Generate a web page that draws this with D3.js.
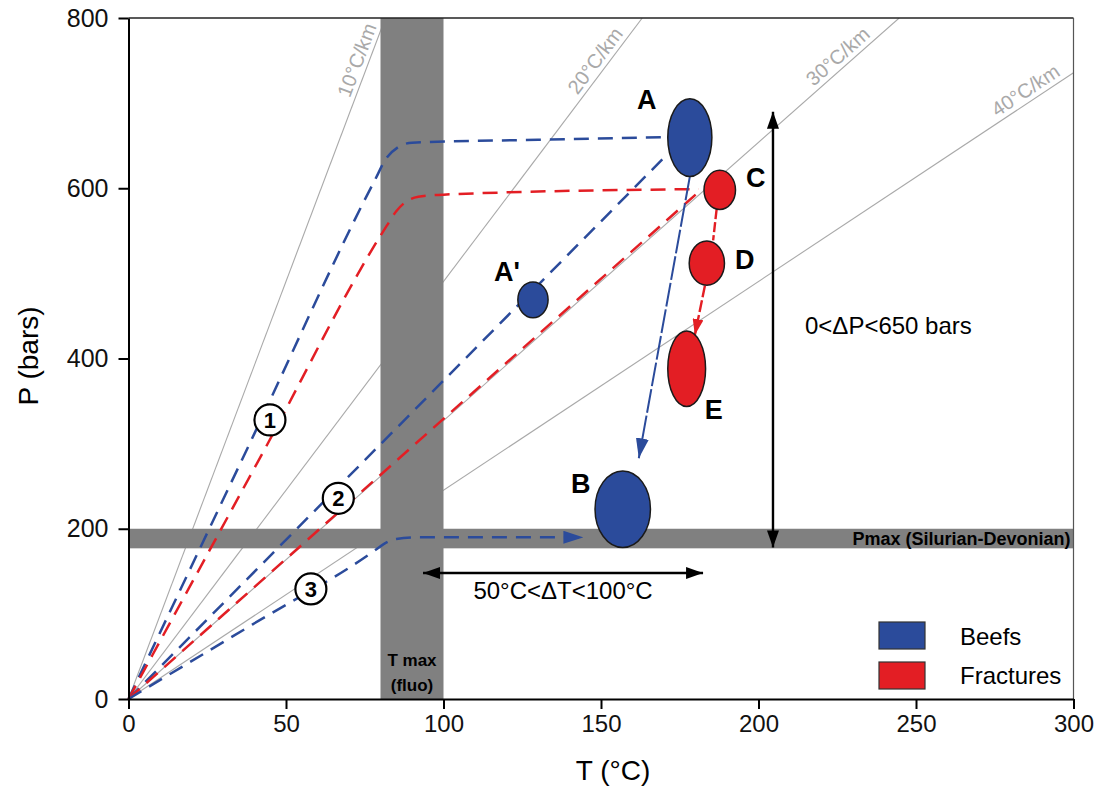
<!DOCTYPE html>
<html><head><meta charset="utf-8">
<script src="https://cdn.jsdelivr.net/npm/d3@7"></script>
<style>body{margin:0;background:#fff} text{font-family:"Liberation Sans",Arial,sans-serif}</style>
</head><body><svg id="c" width="1107" height="800"></svg>
<script>
// ---------- data ----------
const xTicks = [0, 50, 100, 150, 200, 250, 300];
const yTicks = [0, 200, 400, 600, 800];
const gradients = [10, 20, 30, 40];               // °C/km
const barsPerKm = 98.1;                           // hydrostatic
const gradientLabels = ["10°C/km", "20°C/km", "30°C/km", "40°C/km"];
const tmaxBand = [80, 100];                       // °C
const pmaxBand = [177, 200];                      // bars
const ellipseNames = ["A", "A'", "B", "C", "D", "E"];
const ellipseT = [178.2, 128.4, 156.9, 187.7, 183.6, 177.2];
const ellipseP = [659.5, 469, 223, 598, 512, 388];
const ellipseRT = [7, 4.8, 8.8, 5, 5.6, 6];
const ellipseRP = [45.6, 21, 44.9, 23, 26, 44.4];
const ellipseType = ["Beefs", "Beefs", "Beefs", "Fractures", "Fractures", "Fractures"];
const bluePath1 = [[0,0],[40,312],[78,608],[82,636],[85.5,648],[90,653.5],[130,657],[170,660]];
const redPath1  = [[0,0],[42,285],[82,556],[85,573],[88,584],[92,590],[100,592.5],[181,599]];
const bluePath2 = [[0,0],[170.3,637]];
const redPath2  = [[0,0],[182,599]];
const bluePath3 = [[0,0],[40,89],[78,174],[81,182],[85,188],[92,190],[144.4,190]];
const arrowAB = [[178.2,613.7],[162,282.8]];
const arrowCD = [[186.7,575.3],[185.6,538.8]];
const arrowDE = [[183,485.7],[179.8,427.7]];
const deltaT = {T:[93.5,182.4], P:148, label:"50°C<ΔT<100°C"};
const deltaP = {T:204.6, P:[178,690], label:"0<ΔP<650 bars"};
const pathNumbers = ["1","2","3"];
const numberT = [44.9, 66.6, 57.9];
const numberP = [327.8, 235.8, 129.3];
const legendKeys = ["Beefs", "Fractures"];
const colors = {Beefs:"#2b4b9b", Fractures:"#e31e24"};

// ---------- layout ----------
const svg = d3.select("#c");
const x = d3.scaleLinear().domain([0,300]).range([128.5,1073.5]);
const y = d3.scaleLinear().domain([0,800]).range([699,18]);
const line = d3.line().x(d=>x(d[0])).y(d=>y(d[1]));
const curve = d3.line().x(d=>x(d[0])).y(d=>y(d[1])).curve(d3.curveMonotoneX);

const defs = svg.append("defs");
defs.append("clipPath").attr("id","plot").append("rect")
  .attr("x",x(0)).attr("y",y(800)).attr("width",x(300)-x(0)).attr("height",y(0)-y(800));
function marker(id,color,len,w){
  defs.append("marker").attr("id",id).attr("markerUnits","userSpaceOnUse")
    .attr("viewBox",`0 0 ${len} ${w}`).attr("refX",len).attr("refY",w/2)
    .attr("markerWidth",len).attr("markerHeight",w).attr("orient","auto-start-reverse")
    .append("path").attr("d",`M0,0L${len},${w/2}L0,${w}Z`).attr("fill",color);
}
marker("mBlue",colors.Beefs,20,13);
marker("mRed",colors.Fractures,16,11);
marker("mBlack","#000",17,12);

const g = svg.append("g");
// gradient lines
const gl = g.append("g").attr("clip-path","url(#plot)");
const labelFrac = [0.985, 0.972, 0.968, 0.99];
gradients.forEach((gr,i)=>{
  const endT = Math.min(300, 800*gr/barsPerKm);
  const endP = endT*barsPerKm/gr;
  const x0=x(0), y0=y(0), x1=x(endT), y1=y(endP);
  gl.append("line").attr("x1",x0).attr("y1",y0).attr("x2",x1).attr("y2",y1)
    .attr("stroke","#a9a9a9").attr("stroke-width",1.1);
  const ang = Math.atan2(y1-y0,x1-x0);
  const t = labelFrac[i];
  const px = x0+(x1-x0)*t + Math.sin(ang)*5, py = y0+(y1-y0)*t - Math.cos(ang)*5;
  g.append("text").attr("transform",`translate(${px},${py}) rotate(${ang*180/Math.PI})`)
    .attr("text-anchor","end").attr("font-size",20).attr("fill","#a9a9a9").text(gradientLabels[i]);
});

// bands
const bandMid = (x(tmaxBand[0])+x(tmaxBand[1]))/2;
g.append("rect").attr("x",x(tmaxBand[0])).attr("y",y(800)).attr("width",x(tmaxBand[1])-x(tmaxBand[0]))
  .attr("height",y(0)-y(800)).attr("fill","#808080");
g.append("rect").attr("x",x(0)).attr("y",y(pmaxBand[1])).attr("width",x(300)-x(0))
  .attr("height",y(pmaxBand[0])-y(pmaxBand[1])).attr("fill","#808080");
g.append("text").attr("x",bandMid).attr("y",666)
  .attr("text-anchor","middle").attr("font-size",17).attr("font-weight","bold").text("T max");
g.append("text").attr("x",bandMid).attr("y",691)
  .attr("text-anchor","middle").attr("font-size",17).attr("font-weight","bold").text("(fluo)");
g.append("text").attr("x",x(300)-3).attr("y",(y(pmaxBand[0])+y(pmaxBand[1]))/2+6)
  .attr("text-anchor","end").attr("font-size",18).attr("font-weight","bold").text("Pmax (Silurian-Devonian)");

// dashed PT paths
const dash = "15,9", dw = 2.5;
g.append("path").attr("d",curve(bluePath1)).attr("fill","none").attr("stroke",colors.Beefs).attr("stroke-width",dw).attr("stroke-dasharray",dash);
g.append("path").attr("d",curve(redPath1)).attr("fill","none").attr("stroke",colors.Fractures).attr("stroke-width",dw).attr("stroke-dasharray",dash);
g.append("path").attr("d",line(bluePath2)).attr("fill","none").attr("stroke",colors.Beefs).attr("stroke-width",dw).attr("stroke-dasharray",dash);
g.append("path").attr("d",line(redPath2)).attr("fill","none").attr("stroke",colors.Fractures).attr("stroke-width",dw).attr("stroke-dasharray",dash);
g.append("path").attr("d",curve(bluePath3)).attr("fill","none").attr("stroke",colors.Beefs).attr("stroke-width",dw).attr("stroke-dasharray",dash).attr("marker-end","url(#mBlue)");

// evolution arrows
g.append("path").attr("d",line(arrowAB)).attr("fill","none").attr("stroke",colors.Beefs).attr("stroke-width",2).attr("stroke-dasharray","24,3").attr("marker-end","url(#mBlue)");
g.append("path").attr("d",line(arrowCD)).attr("fill","none").attr("stroke",colors.Fractures).attr("stroke-width",2.4).attr("stroke-dasharray","10,3");
g.append("path").attr("d",line(arrowDE)).attr("fill","none").attr("stroke",colors.Fractures).attr("stroke-width",2.4).attr("stroke-dasharray","12,3").attr("marker-end","url(#mRed)");

// ellipses
const labelOff = {"A":[-43,-38],"A'":[-26,-28],"B":[-42,-26],"C":[36,-13],"D":[38,-4],"E":[27,41]};
ellipseNames.forEach((n,i)=>{
  const cx=x(ellipseT[i]), cy=y(ellipseP[i]);
  g.append("ellipse").attr("cx",cx).attr("cy",cy)
    .attr("rx",x(ellipseRT[i])-x(0)).attr("ry",y(0)-y(ellipseRP[i]))
    .attr("fill",colors[ellipseType[i]]).attr("stroke","#1a1a1a").attr("stroke-width",1.5);
  g.append("text").attr("x",cx+labelOff[n][0]).attr("y",cy+labelOff[n][1]).attr("dy","0.36em")
    .attr("text-anchor","middle").attr("font-size",27).attr("font-weight","bold").text(n);
});

// path numbers
pathNumbers.forEach((n,i)=>{
  const cx=x(numberT[i]), cy=y(numberP[i]);
  g.append("circle").attr("cx",cx).attr("cy",cy).attr("r",15.5).attr("fill","#fff").attr("stroke","#000").attr("stroke-width",2.2);
  g.append("text").attr("x",cx).attr("y",cy).attr("dy","0.36em").attr("text-anchor","middle")
    .attr("font-size",22).attr("font-weight","bold").text(n);
});

// delta arrows
g.append("line").attr("x1",x(deltaT.T[0])).attr("x2",x(deltaT.T[1])).attr("y1",y(deltaT.P)).attr("y2",y(deltaT.P))
  .attr("stroke","#000").attr("stroke-width",2.4).attr("marker-start","url(#mBlack)").attr("marker-end","url(#mBlack)");
g.append("text").attr("x",(x(deltaT.T[0])+x(deltaT.T[1]))/2).attr("y",y(deltaT.P)+26)
  .attr("text-anchor","middle").attr("font-size",24).text(deltaT.label);
g.append("line").attr("x1",x(deltaP.T)).attr("x2",x(deltaP.T)).attr("y1",y(deltaP.P[0])).attr("y2",y(deltaP.P[1]))
  .attr("stroke","#000").attr("stroke-width",2.4).attr("marker-start","url(#mBlack)").attr("marker-end","url(#mBlack)");
g.append("text").attr("x",x(deltaP.T)+32).attr("y",334).attr("font-size",24).text(deltaP.label);

// frame
g.append("line").attr("x1",x(0)).attr("x2",x(300)).attr("y1",y(800)).attr("y2",y(800)).attr("stroke","#222").attr("stroke-width",1.5);
g.append("line").attr("x1",x(300)).attr("x2",x(300)).attr("y1",y(800)).attr("y2",y(0)).attr("stroke","#555").attr("stroke-width",1.2);

// axes
const xa = g.append("g").attr("transform",`translate(0,${y(0)})`)
  .call(d3.axisBottom(x).tickValues(xTicks).tickSize(10).tickSizeOuter(0).tickPadding(6).tickFormat(d3.format("d")));
const ya = g.append("g").attr("transform",`translate(${x(0)},0)`)
  .call(d3.axisLeft(y).tickValues(yTicks).tickSize(10).tickSizeOuter(0).tickPadding(10).tickFormat(d3.format("d")));
[xa,ya].forEach(a=>{
  a.selectAll("path,line").attr("stroke","#000").attr("stroke-width",2);
  a.selectAll("text").attr("fill","#111").attr("font-family",'"Liberation Sans",Arial,sans-serif');
});
xa.selectAll("text").attr("font-size",24);
ya.selectAll("text").attr("font-size",25);
g.append("text").attr("x",613).attr("y",780).attr("text-anchor","middle").attr("font-size",28).text("T (°C)");
g.append("text").attr("transform","translate(38,356) rotate(-90)").attr("text-anchor","middle").attr("font-size",28).text("P (bars)");

// legend
legendKeys.forEach((k,i)=>{
  g.append("rect").attr("x",879).attr("y",622+i*40).attr("width",46).attr("height",27)
    .attr("fill",colors[k]).attr("stroke","#333").attr("stroke-width",1.2);
  g.append("text").attr("x",960).attr("y",645+i*39).attr("font-size",24).text(k);
});
</script></body></html>
